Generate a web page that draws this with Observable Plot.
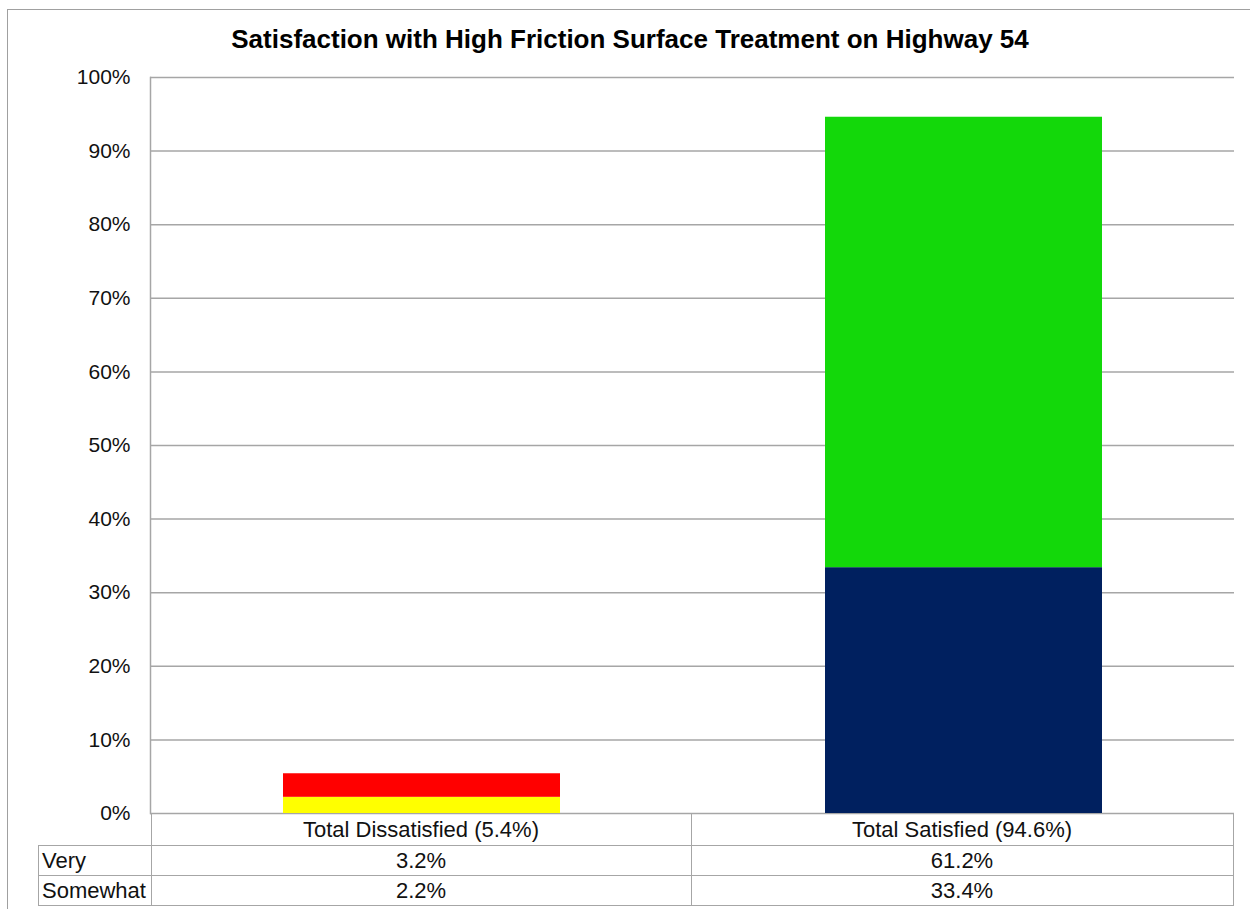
<!DOCTYPE html>
<html>
<head>
<meta charset="utf-8">
<script src="https://cdn.jsdelivr.net/npm/d3@7"></script>
<script src="https://cdn.jsdelivr.net/npm/@observablehq/plot@0.6"></script>
<style>
  html, body { margin: 0; padding: 0; background: #fff; }
  #wrap { position: relative; width: 1250px; height: 909px; overflow: hidden; font-family: "Liberation Sans", Arial, sans-serif; }
  #border { position: absolute; left: 7px; top: 9px; width: 1260px; height: 920px; border-left: 1.5px solid #a0a0a0; border-top: 1.5px solid #a0a0a0; box-sizing: border-box; }
  #title { position: absolute; left: 0; width: 1260px; top: 24px; text-align: center; font-weight: bold; font-size: 26px; color: #000; }
  #chart { position: absolute; left: 0; top: 0; }
  #table { position: absolute; left: 38px; top: 813px; border-collapse: collapse; font-size: 22px; color: #111; }
  #table td { padding: 0; border: 1.5px solid #a6a6a6; text-align: center; line-height: 1; }
  #table td.lab { text-align: left; padding-left: 3px; }
  #table tr.head td.blank { border-top: none; border-left: none; border-bottom: 1.5px solid #a6a6a6; }
</style>
</head>
<body>
<div id="wrap">
  <div id="border"></div>
  <div id="title"></div>
  <div id="chart"></div>
  <table id="table"></table>
</div>
<script>
const titleText = "Satisfaction with High Friction Surface Treatment on Highway 54";
const categories = ["Total Dissatisfied (5.4%)", "Total Satisfied (94.6%)"];
const levels = ["Somewhat", "Very"];           // stacking order: bottom first
const tableRows = ["Very", "Somewhat"];        // table row order
const veryValues = [0.032, 0.612];
const somewhatValues = [0.022, 0.334];
const yTicks = [0, 0.1, 0.2, 0.3, 0.4, 0.5, 0.6, 0.7, 0.8, 0.9, 1.0];
const barColors = {
  "Total Dissatisfied (5.4%)|Somewhat": "#ffff00",
  "Total Dissatisfied (5.4%)|Very": "#ff0000",
  "Total Satisfied (94.6%)|Somewhat": "#00205f",
  "Total Satisfied (94.6%)|Very": "#13d80a"
};

const valuesByLevel = { Very: veryValues, Somewhat: somewhatValues };
const data = [];
levels.forEach(level => {
  categories.forEach((c, i) => data.push({ category: c, level, value: valuesByLevel[level][i] }));
});

document.getElementById("title").textContent = titleText;

const keys = Object.keys(barColors);
const chart = Plot.plot({
  width: 1250,
  height: 909,
  marginLeft: 150,
  marginRight: 16,
  marginTop: 77,
  marginBottom: 96,
  style: { fontFamily: "'Liberation Sans', Arial, sans-serif", fontSize: "21px", color: "#111", background: "transparent", overflow: "visible" },
  x: { domain: categories, paddingInner: 0.489, paddingOuter: 0.2445, axis: null },
  y: { domain: [0, 1], ticks: yTicks, tickFormat: d3.format(".0%"), label: null },
  color: { domain: keys, range: keys.map(k => barColors[k]) },
  marks: [
    Plot.ruleY(yTicks, { stroke: "#a6a6a6", strokeWidth: 1.5, strokeOpacity: 1 }),
    Plot.barY(data, { x: "category", y: "value", fill: d => d.category + "|" + d.level }),
    Plot.axisY(yTicks, { tickSize: 0, tickPadding: 20, fontSize: 21, fill: "#111", label: null, tickFormat: d3.format(".0%") }),
    Plot.frame({ anchor: "left", stroke: "#a6a6a6", strokeWidth: 1.5 })
  ]
});
document.getElementById("chart").appendChild(chart);

// Data table below the plot
const table = document.getElementById("table");
const colWidths = [112, 539, 541];
const head = document.createElement("tr");
head.className = "head";
head.style.height = "32px";
const blank = document.createElement("td");
blank.className = "blank";
blank.style.width = colWidths[0] + "px";
head.appendChild(blank);
categories.forEach((c, i) => {
  const td = document.createElement("td");
  td.style.width = colWidths[i + 1] + "px";
  td.textContent = c;
  head.appendChild(td);
});
table.appendChild(head);
tableRows.forEach(r => {
  const tr = document.createElement("tr");
  tr.style.height = "30px";
  const lab = document.createElement("td");
  lab.className = "lab";
  lab.textContent = r;
  tr.appendChild(lab);
  valuesByLevel[r].forEach(v => {
    const td = document.createElement("td");
    td.textContent = d3.format(".1%")(v);
    tr.appendChild(td);
  });
  table.appendChild(tr);
});
</script>
</body>
</html>
